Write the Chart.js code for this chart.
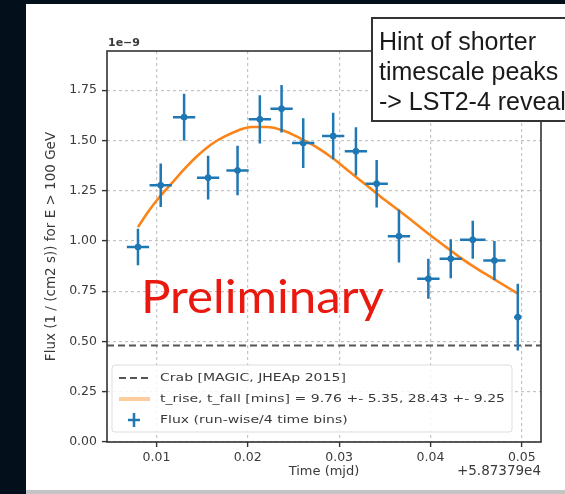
<!DOCTYPE html>
<html>
<head>
<meta charset="utf-8">
<script src="https://cdn.jsdelivr.net/npm/chart.js@4.4.0/dist/chart.umd.min.js"></script>
<style>
html, body { margin: 0; padding: 0; background: #03101b; }
#wrap { width: 565px; height: 494px; }
</style>
</head>
<body>
<div id="wrap"><canvas id="lc-chart" width="565" height="494"></canvas></div>
<script>
// time offsets from 5.87379e4 mjd, flux in units of 1e-9
var fluxTime = [0.00798, 0.01047, 0.01303, 0.01566, 0.01888, 0.02132, 0.02370, 0.02607, 0.02935,
                0.03184, 0.03411, 0.03655, 0.03977, 0.04222, 0.04463, 0.04700, 0.04956];
var timeErr = [0.00122, 0.00122, 0.00122, 0.00122, 0.00122, 0.00122, 0.00122, 0.00122, 0.00122,
               0.00122, 0.00122, 0.00122, 0.00122, 0.00122, 0.00140, 0.00122, 0.00040];
var fluxValue = [0.970, 1.277, 1.616, 1.315, 1.351, 1.605, 1.658, 1.487, 1.522,
                 1.446, 1.285, 1.024, 0.812, 0.912, 1.006, 0.903, 0.621];
var fluxErr = [0.091, 0.108, 0.116, 0.109, 0.123, 0.120, 0.118, 0.124, 0.116,
               0.120, 0.118, 0.131, 0.100, 0.097, 0.094, 0.097, 0.166];

var fitTime = [0.00798, 0.00908, 0.01018, 0.01164, 0.01310, 0.01456, 0.01603, 0.01749, 0.01895,
               0.02041, 0.02205, 0.02387, 0.02570, 0.02753, 0.02935, 0.03118, 0.03300, 0.03483,
               0.03666, 0.03795, 0.03977, 0.04160, 0.04342, 0.04525, 0.04708, 0.04956];
var fitFlux = [1.069, 1.144, 1.210, 1.285, 1.360, 1.426, 1.481, 1.520, 1.550,
               1.567, 1.567, 1.550, 1.512, 1.467, 1.410, 1.343, 1.277, 1.210,
               1.148, 1.102, 1.036, 0.973, 0.912, 0.857, 0.807, 0.738];

var crabFlux = 0.48;

var xTicks = [0.01, 0.02, 0.03, 0.04, 0.05];
var yTicks = [0.00, 0.25, 0.50, 0.75, 1.00, 1.25, 1.50, 1.75];
var xMin = 0.00459, xMax = 0.0521;
var yMin = 0, yMax = 1.945;

var legendLabels = ['Crab [MAGIC, JHEAp 2015]',
                    't_rise, t_fall [mins] = 9.76 +- 5.35, 28.43 +- 9.25',
                    'Flux (run-wise/4 time bins)'];
var noteLines = ['Hint of shorter', 'timescale peaks', '-> LST2-4 reveal'];

var BLUE = '#1f77b4';
var ORANGE = '#fb8419';
var TEXT = '#3a3a3a';

var panelPlugin = {
    id: 'panel',
    beforeDraw: function(chart) {
        var ctx = chart.ctx;
        ctx.save();
        ctx.fillStyle = '#03101b';
        ctx.fillRect(0, 0, chart.width, chart.height);
        ctx.fillStyle = '#ffffff';
        ctx.fillRect(26, 4, chart.width - 26, 486);
        ctx.fillStyle = '#c4c4c4';
        ctx.fillRect(26, 490, chart.width - 26, 4);
        ctx.restore();
    }
};

var errorBarPlugin = {
    id: 'errorBars',
    afterDatasetsDraw: function(chart) {
        var ctx = chart.ctx, xs = chart.scales.x, ys = chart.scales.y;
        ctx.save();
        ctx.strokeStyle = BLUE;
        ctx.lineWidth = 2.5;
        for (var i = 0; i < fluxTime.length; i++) {
            var px = xs.getPixelForValue(fluxTime[i]);
            var py = ys.getPixelForValue(fluxValue[i]);
            ctx.beginPath();
            ctx.moveTo(px, ys.getPixelForValue(fluxValue[i] - fluxErr[i]));
            ctx.lineTo(px, ys.getPixelForValue(fluxValue[i] + fluxErr[i]));
            ctx.moveTo(xs.getPixelForValue(fluxTime[i] - timeErr[i]), py);
            ctx.lineTo(xs.getPixelForValue(fluxTime[i] + timeErr[i]), py);
            ctx.stroke();
        }
        ctx.restore();
    }
};

var overlayPlugin = {
    id: 'overlay',
    afterDraw: function(chart) {
        var ctx = chart.ctx, a = chart.chartArea;
        ctx.save();

        // axes frame
        ctx.strokeStyle = '#333333';
        ctx.lineWidth = 1.6;
        ctx.strokeRect(a.left, a.top, a.right - a.left, a.bottom - a.top);

        // legend, lower left inside the axes
        var lx = a.left + 5, ly = 365, lw = 400, lh = 67;
        ctx.fillStyle = 'rgba(255,255,255,0.85)';
        ctx.strokeStyle = '#dddddd';
        ctx.lineWidth = 1;
        ctx.beginPath();
        ctx.roundRect(lx, ly, lw, lh, 3);
        ctx.fill();
        ctx.stroke();

        var rows = [378, 399, 420];
        ctx.strokeStyle = '#555555';
        ctx.lineWidth = 1.8;
        ctx.setLineDash([7, 4]);
        ctx.beginPath();
        ctx.moveTo(lx + 7, rows[0]);
        ctx.lineTo(lx + 38, rows[0]);
        ctx.stroke();
        ctx.setLineDash([]);

        ctx.strokeStyle = 'rgba(255,127,14,0.4)';
        ctx.lineWidth = 4;
        ctx.beginPath();
        ctx.moveTo(lx + 7, rows[1]);
        ctx.lineTo(lx + 38, rows[1]);
        ctx.stroke();

        ctx.strokeStyle = BLUE;
        ctx.lineWidth = 2.5;
        ctx.beginPath();
        ctx.moveTo(lx + 16, rows[2]);
        ctx.lineTo(lx + 28, rows[2]);
        ctx.moveTo(lx + 22, rows[2] - 7);
        ctx.lineTo(lx + 22, rows[2] + 7);
        ctx.stroke();

        ctx.fillStyle = TEXT;
        ctx.font = '11px "DejaVu Sans"';
        ctx.textBaseline = 'middle';
        ctx.textAlign = 'left';
        var sx = 345 / ctx.measureText(legendLabels[1]).width;
        for (var i = 0; i < legendLabels.length; i++) {
            ctx.save();
            ctx.translate(lx + 48, rows[i]);
            ctx.scale(sx, 1);
            ctx.fillText(legendLabels[i], 0, 0);
            ctx.restore();
        }

        // scale multipliers
        ctx.font = 'bold 11px "DejaVu Sans"';
        ctx.textBaseline = 'alphabetic';
        ctx.fillText('1e\u22129', a.left + 1, a.top - 5);
        ctx.textAlign = 'right';
        ctx.font = '13.5px "DejaVu Sans"';
        ctx.textBaseline = 'middle';
        ctx.fillText('+5.87379e4', a.right, 471);

        // watermark
        ctx.textAlign = 'left';
        ctx.textBaseline = 'alphabetic';
        ctx.font = '46px Lato';
        var w = ctx.measureText('Preliminary').width;
        ctx.save();
        ctx.translate(141, 313);
        ctx.scale(243 / w, 1);
        ctx.fillStyle = '#e9190f';
        ctx.fillText('Preliminary', 0, 0);
        ctx.restore();

        // note box at top right
        ctx.fillStyle = '#ffffff';
        ctx.fillRect(372, 18, 220, 103);
        ctx.strokeStyle = '#333333';
        ctx.lineWidth = 2;
        ctx.strokeRect(372, 18, 220, 103);
        ctx.fillStyle = '#1a1a1a';
        ctx.font = '25px "Liberation Sans"';
        for (var j = 0; j < noteLines.length; j++) {
            ctx.fillText(noteLines[j], 379, 50 + j * 30);
        }
        ctx.restore();
    }
};

var config = {
    type: 'scatter',
    data: {
        datasets: [{
            type: 'line',
            label: legendLabels[0],
            data: [{x: xMin, y: crabFlux}, {x: xMax, y: crabFlux}],
            borderColor: '#555555',
            borderWidth: 1.8,
            borderDash: [7, 4],
            pointRadius: 0
        }, {
            type: 'line',
            label: legendLabels[1],
            data: fitTime.map(function(t, i) { return {x: t, y: fitFlux[i]}; }),
            borderColor: ORANGE,
            borderWidth: 2.6,
            cubicInterpolationMode: 'monotone',
            pointRadius: 0
        }, {
            label: legendLabels[2],
            data: fluxTime.map(function(t, i) { return {x: t, y: fluxValue[i]}; }),
            backgroundColor: BLUE,
            borderColor: BLUE,
            pointRadius: 3
        }]
    },
    options: {
        responsive: false,
        animation: false,
        layout: { padding: { top: 51, left: 26, right: 24, bottom: 4 } },
        plugins: { legend: { display: false }, tooltip: { enabled: false } },
        scales: {
            x: {
                type: 'linear',
                min: xMin,
                max: xMax,
                afterBuildTicks: function(scale) {
                    scale.ticks = xTicks.map(function(v) { return {value: v}; });
                },
                afterFit: function(scale) { scale.height = 48; },
                ticks: {
                    padding: 3,
                    color: TEXT,
                    font: { family: 'DejaVu Sans', size: 12.5 },
                    maxRotation: 0,
                    callback: function(v) { return v.toFixed(2); }
                },
                grid: { color: '#c4c4c4', lineWidth: 1.2, tickLength: 5, tickColor: '#333333', tickWidth: 1.4 },
                border: { display: false, dash: [3, 3] },
                title: {
                    display: true,
                    text: 'Time (mjd)',
                    color: TEXT,
                    font: { family: 'DejaVu Sans', size: 13 },
                    padding: { top: 0, bottom: 11 }
                }
            },
            y: {
                type: 'linear',
                min: yMin,
                max: yMax,
                afterBuildTicks: function(scale) {
                    scale.ticks = yTicks.map(function(v) { return {value: v}; });
                },
                afterFit: function(scale) { scale.width = 81; },
                ticks: {
                    padding: 5,
                    color: TEXT,
                    font: { family: 'DejaVu Sans', size: 12.5 },
                    callback: function(v) { return v.toFixed(2); }
                },
                grid: { color: '#c4c4c4', lineWidth: 1.2, tickLength: 5, tickColor: '#333333', tickWidth: 1.4 },
                border: { display: false, dash: [3, 3] },
                title: {
                    display: true,
                    text: 'Flux (1 / (cm2 s)) for E > 100 GeV',
                    color: TEXT,
                    font: { family: 'DejaVu Sans', size: 13.5 },
                    padding: { top: 17, bottom: 0 }
                }
            }
        }
    },
    plugins: [panelPlugin, errorBarPlugin, overlayPlugin]
};

window.onload = function() {
    var lc_ctx = document.getElementById('lc-chart').getContext('2d');
    window.lcChart = new Chart(lc_ctx, config);
};
</script>
</body>
</html>
